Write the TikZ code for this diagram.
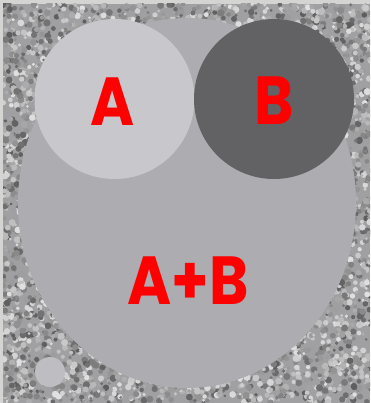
\documentclass[tikz,border=0pt]{standalone}
\usepackage{fontspec}
\setmainfont{Poppins}
\usepackage{xcolor}
\usepackage{tikz}
\definecolor{frameGray}{RGB}{212,212,210}
\definecolor{noiseBase}{RGB}{160,160,163}
\definecolor{sumGray}{RGB}{173,172,176}
\definecolor{aGray}{RGB}{200,199,204}
\definecolor{bGray}{RGB}{98,98,100}
\definecolor{dotGray}{RGB}{190,189,194}
\definecolor{labelRed}{RGB}{255,0,0}

\tikzset{
  setlabel/.style={text=labelRed,inner sep=0pt,transform shape,xscale=0.88,
    font=\fontsize{68}{68}\selectfont\bfseries}
}

\begin{document}
\begin{tikzpicture}[x=1pt,y=-1pt,line join=round]
  \useasboundingbox (0,0) rectangle (370,403);
  \fill[frameGray] (0,0) rectangle (370,403);
  % noisy backdrop
  \begin{scope}
    \clip (3,4) rectangle (370,403);
    \fill[noiseBase] (3,4) rectangle (370,403);
    \pgfmathsetseed{17}
    \foreach \i in {1,...,6500}{
      \pgfmathsetmacro\nx{3+367*rnd}
      \pgfmathsetmacro\ny{4+399*rnd}
      \pgfmathsetmacro\nt{int(12+52*rnd)}
      \pgfmathsetmacro\nr{1.4+2.2*rnd}
      \fill[black!\nt] (\nx,\ny) circle (\nr);
    }
  \end{scope}
  \coordinate (AB) at (187,203);
  \coordinate (A) at (114.5,99);
  \coordinate (B) at (274,99);
  \coordinate (S) at (50,372);
  \fill[sumGray] (AB) ellipse [x radius=169, y radius=185];
  \fill[aGray] (A) circle (80);
  \fill[bGray] (B) circle (80);
  \fill[dotGray] (S) circle (15);
  \node[setlabel] (labA) at (113,102) {A};
  \node[setlabel] (labB) at (274,101) {B};
  \node[setlabel] (labAB) at (188,281) {A+B};
\end{tikzpicture}
\end{document}
